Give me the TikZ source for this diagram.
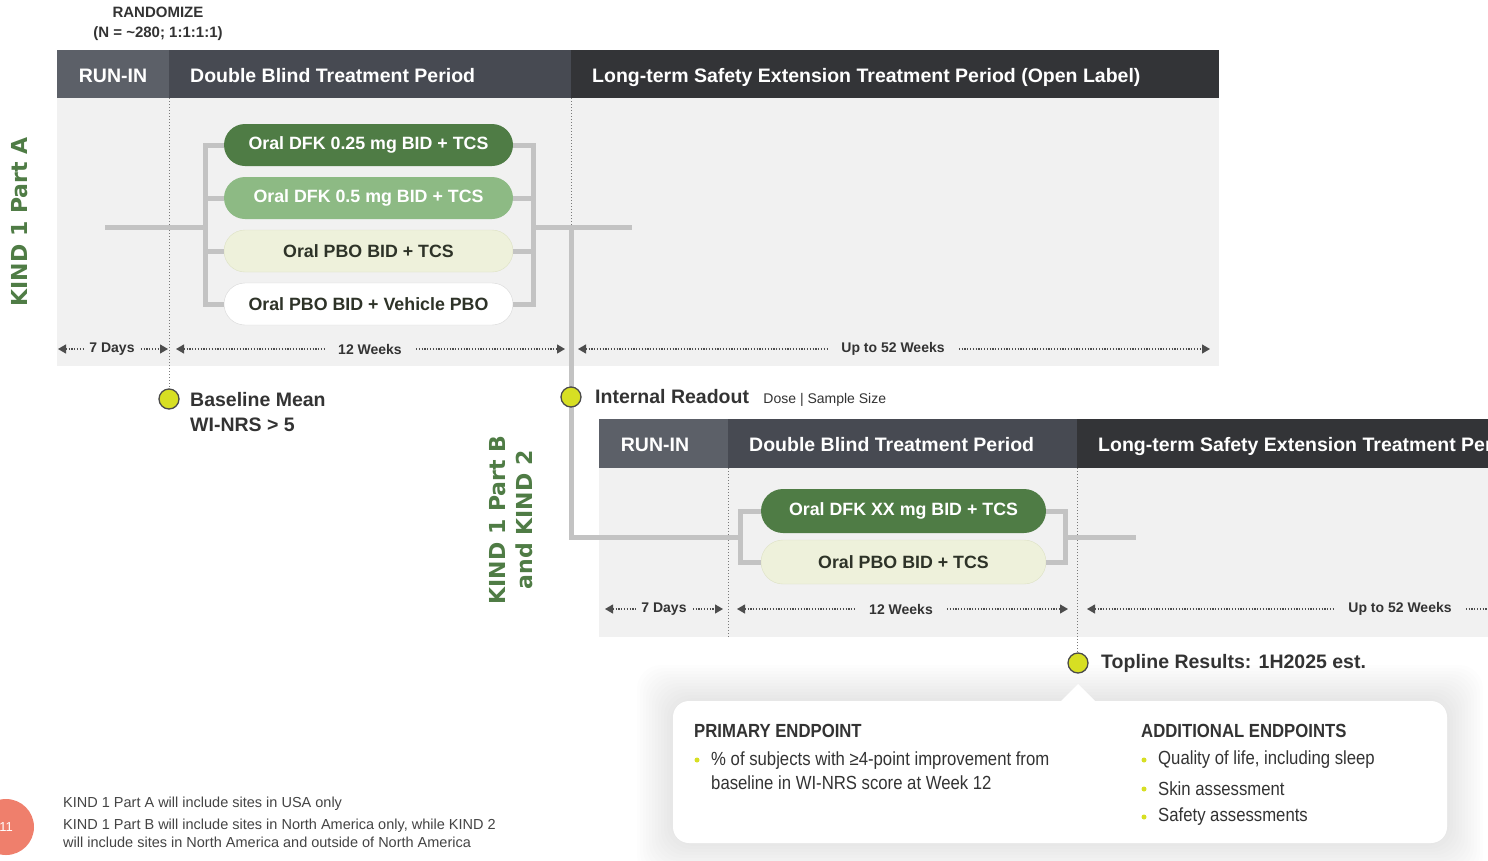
\documentclass[tikz,border=0pt]{standalone}
\usepackage{fontspec}
\setmainfont{Liberation Sans}
\newfontfamily\narrowfont{Liberation Sans}[FakeStretch=0.88]
\newfontfamily\kindfont{DejaVu Sans}
\usetikzlibrary{arrows.meta,positioning}

\definecolor{runin}{HTML}{5C6068}
\definecolor{dblind}{HTML}{474A52}
\definecolor{ext}{HTML}{333437}
\definecolor{bodyc}{HTML}{F1F1F1}
\definecolor{greendk}{HTML}{4F7C45}
\definecolor{greenlt}{HTML}{8DBA84}
\definecolor{cream}{HTML}{EEF1DB}
\definecolor{creamln}{HTML}{DDE1C4}
\definecolor{pillln}{HTML}{D8D8D8}
\definecolor{barc}{HTML}{C3C3C3}
\definecolor{vlinec}{HTML}{7A7A7A}
\definecolor{durc}{HTML}{4D4D4D}
\definecolor{txtc}{HTML}{333333}
\definecolor{pilltxt}{HTML}{2E3328}
\definecolor{dotfill}{HTML}{D7DF23}
\definecolor{dotline}{HTML}{4A4A4A}
\definecolor{notec}{HTML}{444444}
\definecolor{pagec}{HTML}{EF7F6C}

\begin{document}
\begin{tikzpicture}[x=1pt,y=-1pt,>={Triangle[length=8pt,width=9pt]},
    bar/.style={draw=barc,line width=5pt},
    pill/.style={rounded corners=21pt,minimum width=289pt,minimum height=42pt,inner sep=0pt,font=\fontsize{17.8}{20}\selectfont\bfseries},
    hdr/.style={text=white,font=\fontsize{19.5}{22}\selectfont\bfseries,inner sep=0pt},
    vline/.style={draw=vlinec,line width=0.9pt,dash pattern=on 1pt off 2pt},
    dur/.style={draw=durc,line width=1.2pt,dash pattern=on 1.2pt off 1.6pt},
    durlbl/.style={text=txtc,font=\fontsize{14}{16}\selectfont\bfseries,inner xsep=14pt,inner ysep=0pt},
    event/.style={circle,draw=dotline,line width=1.3pt,fill=dotfill,minimum size=20pt,inner sep=0pt},
    eventlbl/.style={text=txtc,font=\fontsize{19.5}{25}\selectfont\bfseries,inner sep=0pt,align=left},
    kindlbl/.style={text=greendk,rotate=90,font=\kindfont\fontsize{22}{27}\selectfont\bfseries,align=center,inner sep=0pt},
    endhead/.style={text=txtc,font=\narrowfont\fontsize{19}{22}\selectfont\bfseries,inner sep=0pt,anchor=west},
    endtxt/.style={text=txtc,font=\narrowfont\fontsize{19}{24}\selectfont,inner sep=0pt,align=left},
    bullet/.style={circle,fill=dotfill,minimum size=5pt,inner sep=0pt},
    note/.style={text=notec,font=\fontsize{14.5}{18}\selectfont,inner sep=0pt,align=left,anchor=north west}]

  \path[use as bounding box,clip] (0,0) rectangle (1488,860);
  \fill[white] (0,0) rectangle (1488,860);

  % endpoints box with soft shadow
  \foreach \g in {1,...,12}
    \fill[black,opacity=0.006,rounded corners=24pt] (673-\g*3,701-\g*3) rectangle (1447+\g*3,843+\g*3);
  \fill[white,rounded corners=16pt] (673,701) rectangle (1447,843);
  \fill[white] (1060,702) -- (1078,684) -- (1096,702) -- cycle;

  % KIND 1 Part A
  \fill[bodyc] (57,98) rectangle (1219,366);
  \fill[runin] (57,50) rectangle (169,98);
  \fill[dblind] (169,50) rectangle (571,98);
  \fill[ext] (571,50) rectangle (1219,98);
  \node[hdr,anchor=base] (hA1) at (113,82) {RUN-IN};
  \node[hdr,anchor=base west] (hA2) at (190,82) {Double Blind Treatment Period};
  \node[hdr,anchor=base west] (hA3) at (592,82) {Long-term Safety Extension Treatment Period (Open Label)};
  \node[text=txtc,font=\fontsize{15}{20}\selectfont\bfseries,align=center,inner sep=0pt] (rand) at (158,24) {RANDOMIZE\\(N = \textasciitilde280; 1:1:1:1)};

  \draw[vline] (169,98) -- (169,389);
  \draw[vline] (571,98) -- (571,366);

  \node[pill,fill=greendk,text=white]               (pA1) at (368.5,145) {Oral DFK 0.25 mg BID + TCS};
  \node[pill,fill=greenlt,text=white]               (pA2) at (368.5,198) {Oral DFK 0.5 mg BID + TCS};
  \node[pill,fill=cream,draw=creamln,text=pilltxt]  (pA3) at (368.5,251) {Oral PBO BID + TCS};
  \node[pill,fill=white,draw=pillln,text=pilltxt]   (pA4) at (368.5,304) {Oral PBO BID + Vehicle PBO};

  \coordinate (inA) at (105,227);
  \coordinate (splitA) at (205,227);
  \coordinate (joinA) at (533,227);
  \coordinate (outA) at (632,227);
  \coordinate (tapA) at (571,227);
  \draw[bar] (inA) -- (splitA)
        (splitA) |- (pA1.west) (splitA) |- (pA2.west)
        (splitA) |- (pA3.west) (splitA) |- (pA4.west);
  \draw[bar] (pA1.east) -| (joinA) (pA2.east) -| (joinA)
        (pA3.east) -| (joinA) (pA4.east) -| (joinA)
        (joinA) -- (outA);

  \node[durlbl,inner xsep=6pt] (dA1) at (112,349) {7 Days};
  \node[durlbl] (dA2) at (370,349) {12 Weeks};
  \node[durlbl] (dA3) at (893,349) {Up to 52 Weeks};
  \coordinate (dA1s) at (58,349);  \coordinate (dA1e) at (168,349);
  \coordinate (dA2s) at (176,349); \coordinate (dA2e) at (565,349);
  \coordinate (dA3s) at (578,349); \coordinate (dA3e) at (1210,349);
  \draw[dur,<-] (dA1s) -- (dA1.west);  \draw[dur,->] (dA1.east) -- (dA1e);
  \draw[dur,<-] (dA2s) -- (dA2.west);  \draw[dur,->] (dA2.east) -- (dA2e);
  \draw[dur,<-] (dA3s) -- (dA3.west);  \draw[dur,->] (dA3.east) -- (dA3e);

  \node[kindlbl] (kindA) at (20,222) {KIND 1 Part A};

  % KIND 1 Part B and KIND 2
  \fill[bodyc] (599,468) rectangle (1500,637);
  \fill[runin] (599,419) rectangle (728,468);
  \fill[dblind] (728,419) rectangle (1077,468);
  \fill[ext] (1077,419) rectangle (1500,468);
  \node[hdr,anchor=base] (hB1) at (655,451) {RUN-IN};
  \node[hdr,anchor=base west] (hB2) at (749,451) {Double Blind Treatment Period};
  \node[hdr,anchor=base west] (hB3) at (1098,451) {Long-term Safety Extension Treatment Period (Open Label)};

  \draw[vline] (728,468) -- (728,637);
  \draw[vline] (1077,468) -- (1077,653);

  \node[pill,minimum width=285pt,minimum height=44pt,rounded corners=22pt,fill=greendk,text=white]              (pB1) at (903.5,511) {Oral DFK XX mg BID + TCS};
  \node[pill,minimum width=285pt,minimum height=44pt,rounded corners=22pt,fill=cream,draw=creamln,text=pilltxt] (pB2) at (903.5,562) {Oral PBO BID + TCS};

  \coordinate (splitB) at (740,537);
  \coordinate (joinB) at (1065,537);
  \coordinate (outB) at (1136,537);
  \draw[bar] (tapA) |- (splitB)
        (splitB) |- (pB1.west) (splitB) |- (pB2.west);
  \draw[bar] (pB1.east) -| (joinB) (pB2.east) -| (joinB)
        (joinB) -- (outB);

  \node[durlbl,inner xsep=6pt] (dB1) at (664,609) {7 Days};
  \node[durlbl] (dB2) at (901,609) {12 Weeks};
  \node[durlbl] (dB3) at (1400,609) {Up to 52 Weeks};
  \coordinate (dB1s) at (605,609);  \coordinate (dB1e) at (723,609);
  \coordinate (dB2s) at (737,609);  \coordinate (dB2e) at (1068,609);
  \coordinate (dB3s) at (1087,609); \coordinate (dB3e) at (1640,609);
  \draw[dur,<-] (dB1s) -- (dB1.west);  \draw[dur,->] (dB1.east) -- (dB1e);
  \draw[dur,<-] (dB2s) -- (dB2.west);  \draw[dur,->] (dB2.east) -- (dB2e);
  \draw[dur,<-] (dB3s) -- (dB3.west);  \draw[dur,->] (dB3.east) -- (dB3e);

  \node[kindlbl] (kindB) at (511,520) {KIND 1 Part B\\and KIND 2};

  % milestones
  \node[event] (base) at (169,399) {};
  \node[eventlbl,anchor=north west] (baselbl) at (190,392) {Baseline Mean\\WI-NRS > 5};
  \node[event] (readout) at (571,397) {};
  \node[eventlbl,anchor=west] (readoutlbl) at (595,397) {Internal Readout};
  \node[text=txtc,font=\fontsize{14}{16}\selectfont,inner sep=0pt,anchor=base west] (dose) at ([xshift=14pt]readoutlbl.base east) {Dose | Sample Size};
  \node[event] (topline) at (1078,663) {};
  \node[eventlbl,anchor=west] (toplinelbl) at (1101,663) {Topline Results: 1H2025 est.};

  % endpoints
  \node[endhead] (prim) at (694,731) {PRIMARY ENDPOINT};
  \node[bullet] (bp1) at (697,760) {};
  \node[endtxt,anchor=north west] (p1) at (711,752) {\% of subjects with ≥4-point improvement from\\baseline in WI-NRS score at Week 12};
  \node[endhead] (addl) at (1141,731) {ADDITIONAL ENDPOINTS};
  \node[bullet] (ba1) at (1144,760) {};
  \node[bullet] (ba2) at (1144,789) {};
  \node[bullet] (ba3) at (1144,817) {};
  \node[endtxt,anchor=west] (a1) at (1158,760) {Quality of life, including sleep};
  \node[endtxt,anchor=west] (a2) at (1158,789) {Skin assessment};
  \node[endtxt,anchor=west] (a3) at (1158,817) {Safety assessments};

  % footnotes
  \node[circle,fill=pagec,minimum size=56pt,inner sep=0pt,text=white,font=\fontsize{13}{15}\selectfont] (page) at (6,827) {11};
  \node[note] (noteA) at (63,797) {KIND 1 Part A will include sites in USA only};
  \node[note] (noteB) at (63,819) {KIND 1 Part B will include sites in North America only, while KIND 2\\will include sites in North America and outside of North America};
\end{tikzpicture}
\end{document}
